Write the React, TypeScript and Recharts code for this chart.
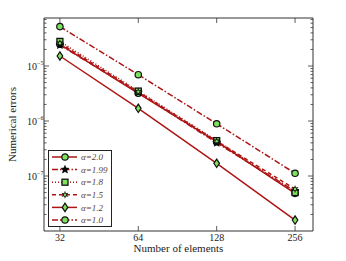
import React from "react";
import { LineChart, Line, XAxis, YAxis, Legend } from "recharts";

// number of elements (x) and numerical errors for each alpha
const elements = [32, 64, 128, 256];
const err20 = [2.48e-5, 3.19e-6, 4.2e-7, 4.84e-8];
const err199 = [2.4e-5, 3.3e-6, 4.0e-7, 5.3e-8];
const err18 = [2.8e-5, 3.5e-6, 4.4e-7, 5.0e-8];
const err15 = [2.6e-5, 3.4e-6, 4.3e-7, 5.8e-8];
const err12 = [1.52e-5, 1.7e-6, 1.7e-7, 1.58e-8];
const err10 = [5.2e-5, 6.95e-6, 8.9e-7, 1.12e-7];

const xTicks = [32, 64, 128, 256];
const yMajor = [1e-7, 1e-6, 1e-5];
const yMinor = [
  2e-8, 3e-8, 4e-8, 5e-8, 6e-8, 7e-8, 8e-8, 9e-8,
  2e-7, 3e-7, 4e-7, 5e-7, 6e-7, 7e-7, 8e-7, 9e-7,
  2e-6, 3e-6, 4e-6, 5e-6, 6e-6, 7e-6, 8e-6, 9e-6,
  2e-5, 3e-5, 4e-5, 5e-5, 6e-5, 7e-5,
];
const yExp = ["\u22127", "\u22126", "\u22125"];

const RED = "#ad1515";
const GREEN = "#7ee05c";
const FONT = "'Liberation Serif', 'DejaVu Serif', serif";

const series = [
  { key: "a20", label: "\u03b1=2.0", values: err20, dash: undefined, marker: "circle" },
  { key: "a199", label: "\u03b1=1.99", values: err199, dash: "6 2 1.5 2", marker: "star" },
  { key: "a18", label: "\u03b1=1.8", values: err18, dash: "1 2", marker: "square" },
  { key: "a15", label: "\u03b1=1.5", values: err15, dash: "4 3", marker: "hex" },
  { key: "a12", label: "\u03b1=1.2", values: err12, dash: undefined, marker: "diamond" },
  { key: "a10", label: "\u03b1=1.0", values: err10, dash: "6 2 1.5 2", marker: "circle" },
];

const data = elements.map((n, i) => {
  const row: any = { n };
  series.forEach((s) => (row[s.key] = s.values[i]));
  return row;
});

const starPath = (cx: number, cy: number, r: number, pts: number) => {
  let d = "";
  for (let i = 0; i < pts * 2; i++) {
    const rr = i % 2 === 0 ? r : r * 0.45;
    const a = (Math.PI * i) / pts - Math.PI / 2;
    d += (i === 0 ? "M" : "L") + (cx + rr * Math.cos(a)) + "," + (cy + rr * Math.sin(a));
  }
  return d + "Z";
};

const Marker = ({ cx, cy, shape }: { cx: number; cy: number; shape: string }) => {
  if (cx == null || cy == null) return null;
  switch (shape) {
    case "star":
      return <path d={starPath(cx, cy, 4.2, 5)} fill="#000" stroke="#000" strokeWidth={0.6} />;
    case "square":
      return <rect x={cx - 3} y={cy - 3} width={6} height={6} fill={GREEN} stroke="#111" strokeWidth={1.3} />;
    case "hex":
      return (
        <g>
          <path d={starPath(cx, cy, 4, 6)} fill="#111" />
          <circle cx={cx} cy={cy} r={1.2} fill={GREEN} />
        </g>
      );
    case "diamond":
      return (
        <path
          d={`M${cx},${cy - 4.2}L${cx + 2.8},${cy}L${cx},${cy + 4.2}L${cx - 2.8},${cy}Z`}
          fill={GREEN}
          stroke="#111"
          strokeWidth={1.2}
        />
      );
    default:
      return <circle cx={cx} cy={cy} r={3.2} fill={GREEN} stroke="#111" strokeWidth={1.2} />;
  }
};

const isMajorY = (v: number) => yMajor.some((m) => Math.abs(m - v) / m < 1e-6);

const LeftTick = (props: any) => {
  const { x, y, payload } = props;
  const major = isMajorY(payload.value);
  const idx = yMajor.findIndex((m) => Math.abs(m - payload.value) / m < 1e-6);
  return (
    <g>
      <line x1={x} x2={x + (major ? 5 : 2.5)} y1={y} y2={y} stroke="#333" strokeWidth={0.8} />
      {major && (
        <text x={x - 7} y={y + 3.5} textAnchor="end" fontFamily={FONT} fontSize={10} fill="#222">
          10
        </text>
      )}
      {major && (
        <text x={x - 7} y={y - 1.5} textAnchor="start" fontFamily={FONT} fontSize={6} fill="#222">
          {yExp[idx]}
        </text>
      )}
    </g>
  );
};

const RightTick = (props: any) => {
  const { x, y, payload } = props;
  const major = isMajorY(payload.value);
  return <line x1={x} x2={x - (major ? 5 : 2.5)} y1={y} y2={y} stroke="#333" strokeWidth={0.8} />;
};

const BottomTick = (props: any) => {
  const { x, y, payload } = props;
  return (
    <g>
      <line x1={x} x2={x} y1={y} y2={y - 5} stroke="#333" strokeWidth={0.8} />
      <text x={x} y={y + 10} textAnchor="middle" fontFamily={FONT} fontSize={10} fill="#222">
        {payload.value}
      </text>
    </g>
  );
};

const TopTick = (props: any) => {
  const { x, y } = props;
  return <line x1={x} x2={x} y1={y} y2={y + 5} stroke="#333" strokeWidth={0.8} />;
};

const LegendBox = () => (
  <svg width={64} height={77} style={{ display: "block" }}>
    <rect x={0.5} y={0.5} width={63} height={76} fill="#fff" stroke="#222" strokeWidth={1} />
    {series.map((s, i) => {
      const cy = 7 + i * 12.6;
      return (
        <g key={s.key}>
          <line x1={4} x2={29} y1={cy} y2={cy} stroke={RED} strokeWidth={1.5} strokeDasharray={s.dash} />
          <Marker cx={17} cy={cy} shape={s.marker} />
          <text x={33} y={cy + 3.2} fontFamily={FONT} fontStyle="italic" fontSize={9} fill="#5a4032">
            {s.label}
          </text>
        </g>
      );
    })}
  </svg>
);

export default function App() {
  return (
    <div style={{ margin: -8, width: 346, height: 261, background: "#fff" }}>
      <LineChart width={346} height={261} data={data} margin={{ top: 17, right: 32, left: 0, bottom: 0 }}>
        <XAxis
          xAxisId="b"
          dataKey="n"
          type="number"
          scale="log"
          domain={[27.8, 300]}
          allowDataOverflow
          ticks={xTicks}
          tick={<BottomTick />}
          tickLine={false}
          tickSize={0}
          tickMargin={0}
          height={30}
          stroke="#333"
          label={{ value: "Number of elements", position: "insideBottom", offset: 9, fontFamily: FONT, fontSize: 11, fill: "#222" }}
        />
        <XAxis
          xAxisId="t"
          orientation="top"
          dataKey="n"
          type="number"
          scale="log"
          domain={[27.8, 300]}
          allowDataOverflow
          ticks={xTicks}
          tick={<TopTick />}
          tickLine={false}
          tickSize={0}
          tickMargin={0}
          height={1}
          stroke="#333"
        />
        <YAxis
          yAxisId="l"
          type="number"
          scale="log"
          domain={[1e-8, 7.46e-5]}
          allowDataOverflow
          ticks={[...yMinor, ...yMajor]}
          interval={0}
          tick={<LeftTick />}
          tickLine={false}
          tickSize={0}
          tickMargin={0}
          width={44}
          stroke="#333"
          label={{ value: "Numerical errors", angle: -90, position: "insideLeft", offset: 12, fontFamily: FONT, fontSize: 11, fill: "#222", style: { textAnchor: "middle" } }}
        />
        <YAxis
          yAxisId="r"
          orientation="right"
          type="number"
          scale="log"
          domain={[1e-8, 7.46e-5]}
          allowDataOverflow
          ticks={[...yMinor, ...yMajor]}
          interval={0}
          tick={<RightTick />}
          tickLine={false}
          tickSize={0}
          tickMargin={0}
          width={1}
          stroke="#333"
        />
        <Legend
          layout="vertical"
          align="center"
          verticalAlign="middle"
          wrapperStyle={{ left: 48, top: 150, width: 64, height: 77 }}
          content={() => <LegendBox />}
        />
        {series.map((s) => (
          <Line
            key={s.key}
            xAxisId="b"
            yAxisId="l"
            dataKey={s.key}
            name={s.label}
            stroke={RED}
            strokeWidth={1.5}
            strokeDasharray={s.dash}
            dot={(p: any) => <Marker key={`${s.key}-${p.index}`} cx={p.cx} cy={p.cy} shape={s.marker} />}
            activeDot={false}
            isAnimationActive={false}
          />
        ))}
      </LineChart>
    </div>
  );
}
